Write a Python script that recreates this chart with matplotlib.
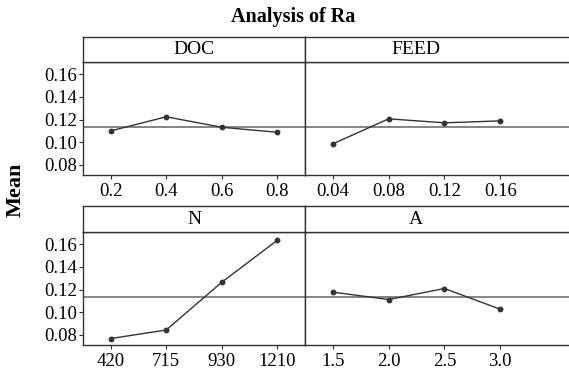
import matplotlib.pyplot as plt

plt.rcParams['font.family'] = ['Liberation Serif', 'DejaVu Serif']

# Data
doc_levels = ['0.2', '0.4', '0.6', '0.8']
doc_means = [0.110, 0.1224, 0.1132, 0.1088]
feed_levels = ['0.04', '0.08', '0.12', '0.16']
feed_means = [0.0986, 0.1206, 0.1171, 0.1188]
n_levels = ['420', '715', '930', '1210']
n_means = [0.0769, 0.0844, 0.1264, 0.1633]
a_levels = ['1.5', '2.0', '2.5', '3.0']
a_means = [0.1177, 0.1112, 0.1209, 0.1027]
grand_mean = 0.1133
y_ticks = [0.08, 0.10, 0.12, 0.14, 0.16]

W, H = 569, 377
fig = plt.figure(figsize=(W / 100, H / 100), dpi=100)

edge = '#333333'


def box(x0, x1, y_top, y_bot):
    # pixel coords -> figure fraction
    return [x0 / W, 1 - y_bot / H, (x1 - x0) / W, (y_bot - y_top) / H]


panels = [
    ('DOC', doc_levels, doc_means, 83, 305, 37, 62, 175, True, 3.5),
    ('FEED', feed_levels, feed_means, 305, 600, 37, 62, 175, False, 4.79),
    ('N', n_levels, n_means, 83, 305, 206, 232, 345, True, 3.5),
    ('A', a_levels, a_means, 305, 600, 206, 232, 345, False, 4.79),
]

for name, levels, means, x0, x1, yt, yh, yb, left, xmax in panels:
    ax = fig.add_axes(box(x0, x1, yh, yb))
    x = range(len(levels))
    ax.axhline(grand_mean, color='#707070', lw=1.2, zorder=1)
    ax.plot(x, means, color=edge, lw=1.0, marker='o', ms=3.2, zorder=2)
    ax.set_xlim(-0.5, xmax)
    ax.set_ylim(0.0712, 0.1706)
    ax.set_xticks(list(x))
    ax.set_xticklabels(levels, fontsize=13.5)
    ax.tick_params(axis='x', direction='out', length=3, color=edge, pad=3)
    if left:
        ax.set_yticks(y_ticks)
        ax.set_yticklabels([f'{v:.2f}' for v in y_ticks], fontsize=13.5)
        ax.tick_params(axis='y', direction='out', length=3, color=edge, pad=1)
    else:
        ax.set_yticks([])
    for s in ax.spines.values():
        s.set_color(edge)
        s.set_linewidth(1.0)
    ax.spines['right'].set_visible(left)
    ax.spines['top'].set_visible(True)

    hx = fig.add_axes(box(x0, x1, yt, yh))
    hx.set_xticks([])
    hx.set_yticks([])
    for s in hx.spines.values():
        s.set_color(edge)
        s.set_linewidth(1.0)
    hx.spines['right'].set_visible(left)
    cx = ((x0 + 28 + 55.4 * 1.5) - x0) / (x1 - x0)
    hx.text(cx, 0.5, name, ha='center', va='center', fontsize=14,
            transform=hx.transAxes)

fig.text(293 / W, 1 - 17 / H, 'Analysis of Ra', ha='center', va='center',
         fontsize=14.5, fontweight='bold')
fig.text(16 / W, 1 - 190 / H, 'Mean', ha='center', va='center',
         rotation=90, fontsize=16, fontweight='bold')

fig.savefig('out.png', dpi=100)
